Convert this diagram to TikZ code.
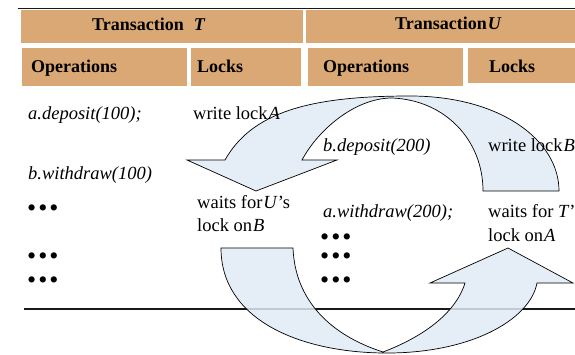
\documentclass[tikz,border=0pt]{standalone}
\usepackage{fontspec}
\setmainfont{Liberation Serif}
\definecolor{tan}{RGB}{217,168,116}
\definecolor{arrowblue}{RGB}{224,235,245}
\begin{document}
\begin{tikzpicture}[x=1pt,y=-1pt,
  hdrbox/.style={fill=tan,draw=none},
  txt/.style={inner sep=0pt,anchor=base west,font=\fontsize{18.5}{22}\selectfont},
  htxt/.style={inner sep=0pt,anchor=base west,font=\fontsize{18}{22}\selectfont\bfseries},
  dotrow/.style={inner sep=0pt,anchor=base west,font=\fontsize{26}{30}\selectfont},
  rule/.style={line width=1.5pt,draw=black!90},
  blockarrow/.style={fill=arrowblue,fill opacity=0.85,draw=black,line width=0.7pt,line join=miter}]
\useasboundingbox (0,0) rectangle (575,355);

% header boxes
\fill[hdrbox] (21,10) rectangle (302.5,43);
\fill[hdrbox] (305.5,10) rectangle (575,43);
\fill[hdrbox] (22,48) rectangle (187,86);
\fill[hdrbox] (190.7,48) rectangle (301,86);
\fill[hdrbox] (308,48) rectangle (463,86);
\fill[hdrbox] (467.5,48) rectangle (575,83.5);

% rules
\coordinate (topL) at (17.6,8.5);
\coordinate (topR) at (575,8.5);
\coordinate (botL) at (24,309);
\coordinate (botR) at (575,309);
\draw[rule] (topL) -- (topR);
\draw[rule] (botL) -- (botR);

% upper curved arrow (T waits for U)
\draw[blockarrow]
  (187,160) -- (225,160)
  .. controls (252,112) and (310,96) .. (410,96)
  .. controls (500,96) and (559,140) .. (559,191)
  -- (483,191)
  .. controls (483,140) and (445,100) .. (392,98)
  .. controls (355,98) and (318,130) .. (302,160)
  -- (337,160) -- (256,191) -- cycle;

% lower curved arrow (U waits for T)
\draw[blockarrow]
  (221,248) -- (293,248)
  .. controls (295,300) and (330,335) .. (383,352)
  .. controls (420,338) and (455,315) .. (465,283)
  -- (430,283) -- (508,248) -- (573,283) -- (537,283)
  .. controls (530,320) and (470,354) .. (383,353)
  .. controls (300,352) and (221,320) .. (221,248)
  -- cycle;

% header texts
\node[htxt] (hT) at (92,31) {Transaction\hspace{10pt}\textit{T}};
\node[htxt] (hU) at (395,30) {Transaction\hspace{1pt}\textit{U}};
\node[htxt] (op1) at (31,73) {Operations};
\node[htxt] (lk1) at (197,73) {Locks};
\node[htxt] (op2) at (323,73) {Operations};
\node[htxt] (lk2) at (489,73) {Locks};

% body texts, transaction T
\node[txt] (adep) at (28,120) {\textit{a.deposit(100);}};
\node[txt] (wlA) at (193,120) {write lock\hspace{1pt}\textit{A}};
\node[txt] (bwd) at (28,180) {\textit{b.withdraw(100)}};
\node[txt] (wU) at (197,209) {waits for\hspace{1pt}\textit{U}'s};
\node[txt] (lB) at (197,232) {lock on\hspace{1pt}\textit{B}};
\node[dotrow] (d1) at (27,217) {•\hspace{2pt}•\hspace{2pt}•};
\node[dotrow] (d2) at (27,265) {•\hspace{2pt}•\hspace{2pt}•};
\node[dotrow] (d3) at (27,288) {•\hspace{2pt}•\hspace{2pt}•};

% body texts, transaction U
\node[txt] (bdep) at (323,152) {\textit{b.deposit(200)}};
\node[txt] (wlB) at (488,152) {write lock\hspace{1pt}\textit{B}};
\node[txt] (awd) at (323,218) {\textit{a.withdraw(200);}};
\node[txt] (wT) at (488,218) {waits for \textit{T}'};
\node[txt] (lA) at (488,242) {lock on\hspace{1pt}\textit{A}};
\node[dotrow] (d4) at (320,246) {•\hspace{2pt}•\hspace{2pt}•};
\node[dotrow] (d5) at (320,265) {•\hspace{2pt}•\hspace{2pt}•};
\node[dotrow] (d6) at (320,288) {•\hspace{2pt}•\hspace{2pt}•};
\end{tikzpicture}
\end{document}
